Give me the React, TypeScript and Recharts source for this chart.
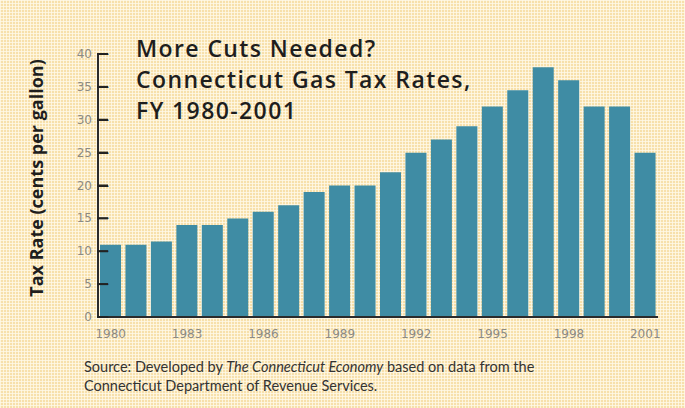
import React from 'react'
import { BarChart, Bar, XAxis, YAxis } from 'recharts'

const years = [
  '1980', '1981', '1982', '1983', '1984', '1985', '1986', '1987', '1988', '1989', '1990',
  '1991', '1992', '1993', '1994', '1995', '1996', '1997', '1998', '1999', '2000', '2001',
]
const taxRates = [11, 11, 11.5, 14, 14, 15, 16, 17, 19, 20, 20, 22, 25, 27, 29, 32, 34.5, 38, 36, 32, 32, 25]
const yTicks = [0, 5, 10, 15, 20, 25, 30, 35, 40]
const titleLines = ['More Cuts Needed?', 'Connecticut Gas Tax Rates,', 'FY 1980-2001']

const data = years.map((year, i) => ({ year, rate: taxRates[i] }))

const BAR = '#3f8ca4'
const INK = '#2b2b2b'
const TICK_TXT = '#8c8a84'

// label left of the axis, short mark pointing into the plot (dash glyph + rect)
const YTick = (props: any) => {
  const { x, y, payload } = props
  const tx = Number(x)
  const ty = Number(y)
  return (
    <g>
      <rect x={tx + 5} y={ty - 1} width={11} height={2} fill="#222222" />
      <text x={tx + 5} y={ty} dy={4} textAnchor="start" fill="#222222" fontSize={12}
        fontWeight={700} fontFamily="DejaVu Sans">
        —
      </text>
      <text x={tx} y={ty} dy={4} textAnchor="end" fill={TICK_TXT} fontSize={12} fontFamily="DejaVu Sans">
        {payload.value}
      </text>
    </g>
  )
}

export default function App() {
  return (
    <div style={{
      position: 'absolute', left: 0, top: 0, width: 685, height: 408,
      backgroundColor: '#f7e0ab',
      backgroundImage:
        'linear-gradient(90deg, rgba(255,249,232,0.8) 1px, transparent 1px), linear-gradient(rgba(255,249,232,0.8) 1px, transparent 1px)',
      backgroundSize: '3px 3px',
    }}>
      <BarChart width={685} height={408} data={data} margin={{ top: 54, right: 27, left: 58, bottom: 71 }}>
        <XAxis
          dataKey="year"
          interval={2}
          tickLine={false}
          axisLine={{ stroke: INK, strokeWidth: 2 }}
          tick={{ fill: TICK_TXT, fontSize: 12, fontFamily: 'DejaVu Sans' }}
          tickMargin={6}
          height={20}
        />
        <Bar dataKey="rate" fill={BAR} barSize={21} isAnimationActive={false} />
        <YAxis
          domain={[0, 40]}
          ticks={yTicks}
          width={40}
          tickSize={6}
          tickMargin={0}
          tickLine={false}
          axisLine={{ stroke: INK, strokeWidth: 2 }}
          tick={YTick}
        />
      </BarChart>

      <div style={{
        position: 'absolute', left: 136, top: 33, fontFamily: '"Open Sans", sans-serif',
        fontWeight: 600, fontSize: 23, letterSpacing: 1.4, lineHeight: '31px', color: '#1e1e1e',
      }}>
        {titleLines.map((t) => <div key={t}>{t}</div>)}
      </div>

      <div style={{
        position: 'absolute', left: 36, top: 178, transform: 'translate(-50%, -50%) rotate(-90deg)',
        whiteSpace: 'nowrap', fontFamily: '"Open Sans", sans-serif', fontWeight: 700, fontSize: 18, color: '#1e1e1e',
      }}>
        Tax Rate (cents per gallon)
      </div>

      <div style={{
        position: 'absolute', left: 84, top: 357, fontFamily: 'Lato, sans-serif', fontSize: 14.5,
        lineHeight: '19px', color: '#333',
      }}>
        Source: Developed by <i>The Connecticut Economy</i> based on data from the<br />
        Connecticut Department of Revenue Services.
      </div>
    </div>
  )
}
